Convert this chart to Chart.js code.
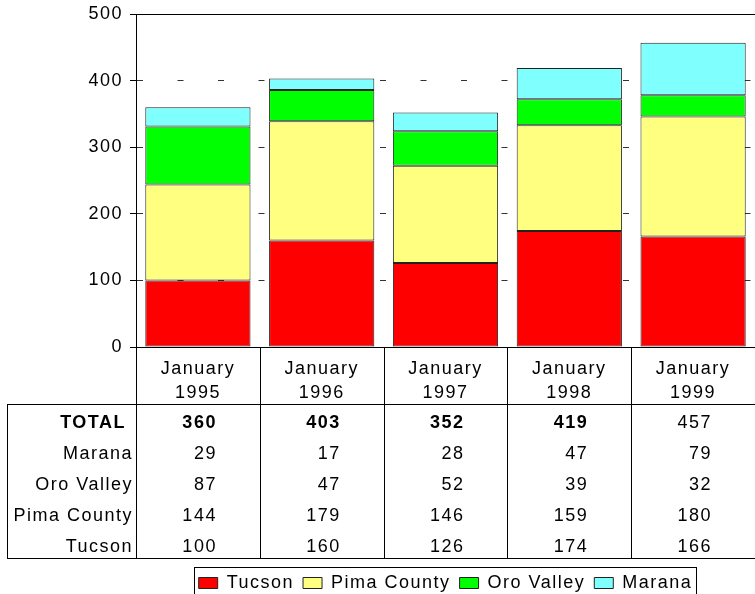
<!DOCTYPE html>
<html>
<head>
<meta charset="utf-8">
<script src="https://cdn.jsdelivr.net/npm/chart.js@4/dist/chart.umd.min.js"></script>
<style>
  body { margin: 0; background: #fff; }
</style>
</head>
<body>
<canvas id="myChart" width="755" height="594"></canvas>
<script>
const labels = [
  ['January', '1995'],
  ['January', '1996'],
  ['January', '1997'],
  ['January', '1998'],
  ['January', '1999']
];
const tucson = [100, 160, 126, 174, 166];
const pimaCounty = [144, 179, 146, 159, 180];
const oroValley = [87, 47, 52, 39, 32];
const marana = [29, 17, 28, 47, 79];
const totals = [360, 403, 352, 419, 457];
const totalBold = [true, true, true, true, false];
const yTicks = [0, 100, 200, 300, 400, 500];

// rows of the table under the axis, top to bottom
const tableRows = [
  { name: 'TOTAL', values: totals, bold: true },
  { name: 'Marana', values: marana },
  { name: 'Oro Valley', values: oroValley },
  { name: 'Pima County', values: pimaCounty },
  { name: 'Tucson', values: tucson }
];

const FONT = '"Liberation Sans", Arial, sans-serif';
const SPACING = '1.5px';

Chart.defaults.font.family = FONT;
Chart.defaults.font.size = 18;
Chart.defaults.color = '#000';

const tablePlugin = {
  id: 'dataTable',
  beforeUpdate(chart) { chart.ctx.letterSpacing = SPACING; },
  beforeDraw(chart) { chart.ctx.letterSpacing = SPACING; },
  afterLayout(chart) {
    // centre the legend under the plot area instead of the canvas
    const lg = chart.legend, a = chart.chartArea;
    lg.left = a.left;
    lg.right = a.right;
    lg.width = a.right - a.left;
  },
  afterDraw(chart) {
    const ctx = chart.ctx, a = chart.chartArea;
    const colW = (a.right - a.left) / labels.length;
    const headBottom = a.bottom + 57;
    const tableBottom = a.bottom + 211;
    const rowH = (tableBottom - headBottom) / tableRows.length;

    ctx.save();
    ctx.letterSpacing = SPACING;
    ctx.strokeStyle = '#000';
    ctx.lineWidth = 1;

    // plot frame
    ctx.strokeRect(a.left + 0.5, a.top + 0.5, a.right - a.left, a.bottom - a.top);

    ctx.beginPath();
    for (let i = 0; i <= labels.length; i++) {
      const px = Math.round(a.left + i * colW) + 0.5;
      ctx.moveTo(px, a.bottom);
      ctx.lineTo(px, tableBottom);
    }
    ctx.moveTo(7, headBottom + 0.5);
    ctx.lineTo(a.right, headBottom + 0.5);
    ctx.moveTo(7, tableBottom + 0.5);
    ctx.lineTo(a.right, tableBottom + 0.5);
    ctx.moveTo(7.5, headBottom);
    ctx.lineTo(7.5, tableBottom);
    ctx.stroke();

    ctx.fillStyle = '#000';
    ctx.textBaseline = 'middle';
    tableRows.forEach((row, r) => {
      const cy = headBottom + 19.5 + r * rowH;
      ctx.font = (row.bold ? 'bold ' : '') + '18px ' + FONT;
      ctx.textAlign = 'right';
      ctx.fillText(row.name, a.left - (row.bold ? 10 : 3), cy);
      row.values.forEach((v, i) => {
        const bold = row.bold && totalBold[i];
        ctx.font = (bold ? 'bold ' : '') + '18px ' + FONT;
        const cx = chart.scales.x.getPixelForValue(i);
        ctx.fillText(String(v), cx + 19, cy);
      });
    });

    // legend frame
    const boxes = chart.legend.legendHitBoxes;
    if (boxes.length) {
      const l = Math.min(...boxes.map(b => b.left)) - 5;
      const r = Math.max(...boxes.map(b => b.left + b.width)) + 3;
      const t = boxes[0].top - 7;
      ctx.strokeRect(Math.round(l) + 0.5, Math.round(t) + 0.5, Math.round(r - l), 40);
    }
    ctx.restore();
  }
};

const barStyle = { borderColor: '#222', borderWidth: 1, borderSkipped: false };

const data = {
  labels: labels,
  datasets: [
    { label: 'Tucson', data: tucson, backgroundColor: '#ff0000', ...barStyle },
    { label: 'Pima County', data: pimaCounty, backgroundColor: '#ffff80', ...barStyle },
    { label: 'Oro Valley', data: oroValley, backgroundColor: '#00ff00', ...barStyle },
    { label: 'Marana', data: marana, backgroundColor: '#80ffff', ...barStyle }
  ]
};

const config = {
  type: 'bar',
  data: data,
  options: {
    responsive: false,
    animation: false,
    layout: { padding: { top: 14, right: -9, left: 0, bottom: -8 } },
    datasets: { bar: { barPercentage: 0.85, categoryPercentage: 1 } },
    plugins: {
      tooltip: { enabled: false },
      legend: {
        position: 'bottom',
        labels: { boxWidth: 19, boxHeight: 11, padding: 9, font: { size: 18 } }
      }
    },
    scales: {
      x: {
        stacked: true,
        grid: { display: false, drawTicks: false },
        border: { display: true, color: '#000', width: 1 },
        ticks: { maxRotation: 0, padding: 10, font: { size: 18, lineHeight: 1.33 } },
        afterFit(s) { s.height = 218; }
      },
      y: {
        stacked: true,
        min: 0,
        max: 500,
        afterBuildTicks(s) { s.ticks = yTicks.map(v => ({ value: v })); },
        grid: { color: '#333', tickColor: '#000', tickLength: 6, tickBorderDash: [] },
        border: { display: true, color: '#000', dash: [6, 34.5] },
        ticks: { padding: 7, font: { size: 18, lineHeight: 0.7 } },
        afterFit(s) { s.width = 136; }
      }
    }
  },
  plugins: [tablePlugin]
};

const myChart = new Chart(document.getElementById('myChart'), config);
</script>
</body>
</html>
